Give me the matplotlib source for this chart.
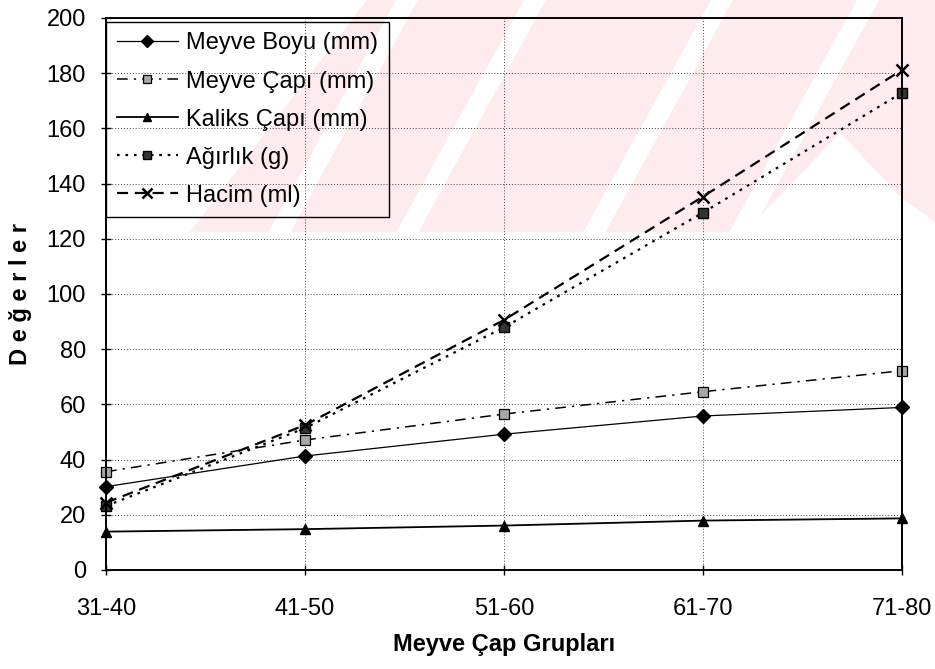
import matplotlib
matplotlib.use("Agg")
from matplotlib import pyplot as plt
from matplotlib.patches import Polygon

plt.rcParams['font.family'] = ['Liberation Sans', 'DejaVu Sans']

# Meyve çap gruplarına göre ölçülen ortalama değerler
gruplar = ['31-40', '41-50', '51-60', '61-70', '71-80']
meyve_boyu = [30.2, 41.3, 49.2, 55.8, 58.9]
meyve_capi = [35.6, 47.1, 56.5, 64.6, 72.2]
kaliks_capi = [13.9, 14.8, 16.1, 17.9, 18.7]
agirlik = [23.2, 51.4, 87.9, 129.5, 172.9]
hacim = [24.4, 52.5, 90.6, 135.3, 181.2]

W, H = 935, 669
fig = plt.figure(figsize=(W / 100, H / 100), dpi=100)

# arka plandaki pembe çizgili filigran (piksel koordinatlarında)
bg = fig.add_axes([0, 0, 1, 1], zorder=-1)
bg.set_xlim(0, W)
bg.set_ylim(H, 0)
bg.axis('off')
pembe = '#fdebee'
alan = Polygon([(190, 232), (367, 0), (935, 0), (935, 232)], closed=True,
               facecolor=pembe, edgecolor='none')
bg.add_patch(alan)
egim = 0.55
for x0 in [407, 535, 722, 868]:
    w = 22
    serit = Polygon([(x0 - w / 2, 0), (x0 + w / 2, 0),
                     (x0 + w / 2 - egim * 232, 232), (x0 - w / 2 - egim * 232, 232)],
                    closed=True, facecolor='white', edgecolor='none')
    bg.add_patch(serit)
    serit.set_clip_path(alan)
ucgen = Polygon([(840, 133), (745, 232), (935, 232), (935, 222), (902, 198)],
                closed=True, facecolor='white', edgecolor='none')
bg.add_patch(ucgen)

ax = fig.add_axes([106 / W, 1 - 570 / H, (902 - 106) / W, (570 - 18) / H])
ax.set_facecolor('none')
x = list(range(len(gruplar)))

ax.plot(x, meyve_boyu, color='black', lw=0.9, ls='-', marker='D', ms=7,
        mfc='black', mec='black', label='Meyve Boyu (mm)', clip_on=False)
ax.plot(x, meyve_capi, color='black', lw=1.1, dashes=(7, 4, 1.5, 4), marker='s', ms=6.5,
        mfc='#a8a8a8', mec='black', mew=0.9, label='Meyve Çapı (mm)', clip_on=False)
ax.plot(x, kaliks_capi, color='black', lw=1.3, ls='-', marker='^', ms=7,
        mfc='black', mec='black', label='Kaliks Çapı (mm)', clip_on=False)
ax.plot(x, agirlik, color='black', lw=1.6, dashes=(1.2, 2.6), marker='s', ms=6.5,
        mfc='#333333', mec='black', label='Ağırlık (g)', clip_on=False)
ax.plot(x, hacim, color='black', lw=1.6, dashes=(5, 3), marker='x', ms=8, mew=1.8,
        mec='black', label='Hacim (ml)', clip_on=False)

ax.set_xlim(0, len(gruplar) - 1)
ax.set_ylim(0, 200)
ax.set_yticks(range(0, 201, 20))
ax.set_xticks(x)
ax.set_xticklabels(gruplar)
ax.tick_params(axis='both', direction='inout', length=7, width=1, labelsize=17, color='black')
ax.tick_params(axis='x', pad=17)
ax.tick_params(axis='y', pad=11)
ax.grid(True, ls=(0, (1, 2)), lw=0.7, color='#444444')
for s in ax.spines.values():
    s.set_linewidth(1.4)

ax.set_xlabel('Meyve Çap Grupları', fontsize=17, fontweight='bold', labelpad=9)
ax.set_ylabel('D e ğ e r l e r', fontsize=17, fontweight='bold', labelpad=10)

leg = ax.legend(loc='upper left', bbox_to_anchor=(0.0, 0.993), borderaxespad=0,
                fontsize=17, frameon=True, fancybox=False, edgecolor='black',
                facecolor='none', framealpha=1, handlelength=2.6, handletextpad=0.35,
                borderpad=0.45, labelspacing=0.68, markerscale=0.85)
leg.get_frame().set_linewidth(1.0)

fig.savefig('out.png', dpi=100)
